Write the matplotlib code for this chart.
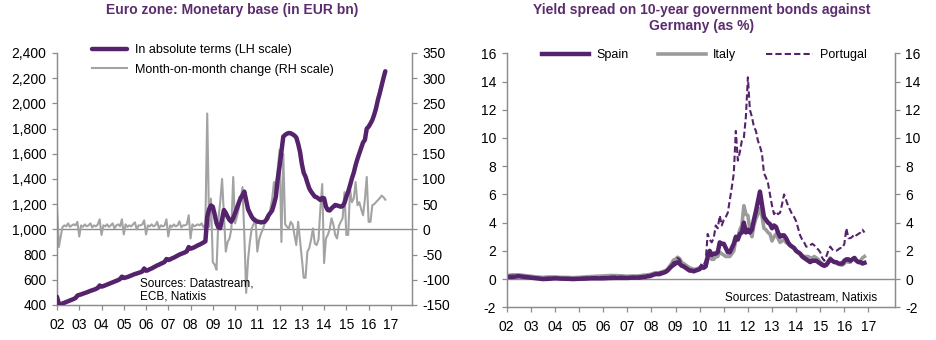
import numpy as np
import matplotlib.pyplot as plt
from matplotlib.ticker import FuncFormatter

plt.rcParams['font.family'] = ['Liberation Sans', 'DejaVu Sans']
plt.rcParams['axes.unicode_minus'] = False

PURPLE = '#55236c'
TITLE = '#5b2d6e'
GREY = '#a3a3a3'
AXIS = '#8c8c8c'

# Euro zone monetary base, monthly from Jan 2002 (EUR bn)
mb_level = [
    465, 410, 405, 412, 418, 424, 430, 436, 442, 448, 455, 475,
    480, 484, 490, 495, 500, 506, 512, 517, 522, 528, 535, 555,
    546, 550, 556, 562, 568, 574, 580, 586, 592, 598, 606, 625,
    614, 618, 622, 628, 634, 640, 646, 650, 655, 660, 666, 690,
    672, 676, 684, 690, 698, 706, 714, 720, 728, 734, 742, 765,
    757, 762, 770, 776, 784, 792, 800, 806, 812, 818, 826, 860,
    847, 852, 858, 866, 874, 880, 888, 895, 905, 1100, 1160, 1190,
    1180, 1120, 1050, 1015, 1010, 1080, 1154, 1130, 1100, 1075, 1061, 1090,
    1128, 1170, 1210, 1250, 1270, 1300, 1230, 1160, 1130, 1100, 1080, 1070,
    1061, 1060, 1055, 1058, 1061, 1080, 1110, 1130, 1150, 1200, 1260, 1400,
    1500, 1620, 1736, 1750, 1760, 1765, 1763, 1755, 1745, 1730, 1680, 1617,
    1520, 1450, 1418, 1370, 1326, 1300, 1280, 1260, 1255, 1245, 1233, 1250,
    1247, 1180, 1154, 1150, 1167, 1180, 1194, 1190, 1185, 1180, 1185, 1210,
    1260, 1300, 1350, 1405, 1450, 1510, 1560, 1604, 1650, 1690, 1710, 1800,
    1815, 1840, 1868, 1910, 1960, 2027, 2080, 2140, 2200, 2255,
]
# Month-on-month change (EUR bn)
mb_change = [
    45, -35, -14, 5, 8, 6, 12, 5, 8, 10, 8, 15,
    -14, 8, 5, 10, 6, 8, 12, 4, 8, 6, 10, 20,
    -11, 8, 6, 10, 5, 8, 12, 2, 8, 10, 6, 20,
    -10, 10, 5, 8, 6, 10, 14, 0, 8, 8, 10, 18,
    -10, 8, 6, 10, 6, 8, 15, 2, 8, 6, 8, 20,
    -14, 8, 5, 10, 6, 8, 16, 4, 8, 8, 10, 28,
    -18, 10, 6, 8, 10, 8, 12, 4, 10, 230, 5, 61,
    -65, -70, -80, 20, 54, 100, 30, -44, -25, -18, 0, 104,
    12, 25, 41, 60, 84, -11, -126, -60, -24, 2, 10, 22,
    -44, -20, -8, 0, 12, 25, 20, 40, 60, 94, 70, 120,
    158, -25, 150, 10, 5, 2, 15, 10, -11, -31, 15, -20,
    -57, -96, -96, -44, -37, -20, 2, -28, -31, -20, 41, 90,
    -67, -18, -11, 0, 22, 10, -11, -18, 7, 15, 22, 74,
    -11, -11, 80, 54, 61, 94, 48, 54, 40, 28, 60, 104,
    15, 15, 48, 50, 54, 58, 62, 67, 64, 59,
]

# 10-year spreads vs Germany (%): quarterly 2002 Q1 - 2007 Q2, then monthly Jul 2007 - Nov 2016
spain = [
    0.15, 0.15, 0.2, 0.15, 0.1, 0.05, 0.0, 0.02, 0.05, 0.03, 0.02, 0.0,
    0.02, 0.03, 0.05, 0.05, 0.05, 0.07, 0.08, 0.08, 0.08, 0.1,
    0.1, 0.12, 0.15, 0.15, 0.2, 0.2,
    0.25, 0.3, 0.35, 0.35, 0.35, 0.4, 0.45, 0.5, 0.6, 0.75, 0.9, 1.0,
    1.1, 1.2, 1.1, 0.95, 0.9, 0.8, 0.7, 0.6, 0.6, 0.55, 0.6, 0.65,
    0.7, 0.9, 0.8, 0.9, 1.6, 2.0, 1.7, 1.8, 1.8, 1.9, 2.6, 2.5,
    2.5, 2.2, 1.9, 1.9, 2.2, 2.5, 3.0, 2.8, 3.2, 3.3, 4.0, 3.3,
    3.5, 3.3, 3.5, 4.2, 4.8, 5.5, 6.2, 5.3, 4.4, 4.2, 4.0, 3.9,
    3.6, 3.8, 3.7, 3.3, 3.0, 3.1, 3.1, 2.9, 2.6, 2.4, 2.3, 2.2,
    2.0, 1.9, 1.8, 1.6, 1.5, 1.4, 1.3, 1.2, 1.3, 1.3, 1.3, 1.2,
    1.1, 1.0, 0.95, 1.0, 1.2, 1.4, 1.3, 1.2, 1.2, 1.1, 1.1, 1.1,
    1.3, 1.4, 1.4, 1.3, 1.4, 1.5, 1.3, 1.2, 1.2, 1.1, 1.15,
]
italy = [
    0.25, 0.3, 0.3, 0.25, 0.2, 0.15, 0.12, 0.15, 0.15, 0.12, 0.12, 0.1,
    0.12, 0.15, 0.18, 0.2, 0.22, 0.25, 0.25, 0.23, 0.2, 0.22,
    0.22, 0.25, 0.28, 0.28, 0.3, 0.32,
    0.35, 0.4, 0.45, 0.45, 0.45, 0.5, 0.55, 0.6, 0.7, 0.9, 1.1, 1.35,
    1.4, 1.55, 1.45, 1.2, 1.1, 1.0, 0.9, 0.8, 0.75, 0.7, 0.7, 0.75,
    0.8, 0.9, 0.8, 0.9, 1.4, 1.6, 1.4, 1.4, 1.6, 1.6, 1.9, 1.8,
    1.7, 1.6, 1.6, 1.6, 1.8, 2.0, 2.8, 2.9, 3.5, 3.8, 5.2, 4.6,
    4.5, 3.5, 3.0, 3.8, 4.3, 4.6, 5.0, 4.5, 3.6, 3.5, 3.3, 3.2,
    2.7, 3.0, 3.2, 2.9, 2.6, 2.7, 2.8, 2.6, 2.5, 2.4, 2.3, 2.2,
    2.0, 1.9, 1.8, 1.7, 1.6, 1.6, 1.6, 1.5, 1.5, 1.6, 1.5, 1.4,
    1.2, 1.1, 0.9, 1.0, 1.2, 1.5, 1.3, 1.2, 1.2, 1.1, 1.0, 1.0,
    1.1, 1.3, 1.2, 1.2, 1.4, 1.5, 1.3, 1.2, 1.3, 1.5, 1.6,
]
portugal = [
    0.2, 0.25, 0.25, 0.2, 0.15, 0.1, 0.08, 0.1, 0.1, 0.08, 0.07, 0.05,
    0.08, 0.1, 0.12, 0.15, 0.15, 0.17, 0.18, 0.17, 0.15, 0.17,
    0.18, 0.2, 0.22, 0.22, 0.25, 0.25,
    0.3, 0.35, 0.4, 0.4, 0.45, 0.5, 0.55, 0.55, 0.65, 0.8, 1.0, 1.2,
    1.2, 1.5, 1.4, 1.1, 0.95, 0.85, 0.7, 0.65, 0.6, 0.55, 0.6, 0.7,
    0.75, 1.1, 1.0, 1.3, 3.2, 2.8, 2.6, 2.9, 3.8, 3.6, 4.5, 3.8,
    4.2, 4.4, 4.7, 5.6, 6.5, 7.5, 10.5, 8.4, 9.0, 9.8, 10.0, 11.5,
    14.3, 12.0, 11.5, 10.8, 10.5, 9.8, 9.4, 8.9, 7.5, 7.2, 6.8, 6.0,
    5.2, 4.6, 4.8, 4.6, 4.7, 5.3, 6.0, 5.6, 5.2, 4.9, 4.6, 4.4,
    4.1, 3.6, 3.1, 2.8, 2.6, 2.3, 2.3, 2.4, 2.5, 2.4, 2.2, 2.1,
    1.9, 1.5, 1.3, 1.6, 2.0, 2.3, 2.1, 2.0, 2.0, 2.1, 2.2, 2.2,
    2.5, 3.6, 2.9, 2.9, 3.0, 3.2, 3.1, 3.2, 3.3, 3.5, 3.3,
]

years = list(range(2002, 2018))
year_labels = ['%02d' % (y % 100) for y in years]

mb_x = 2002 + np.arange(len(mb_level)) / 12
spread_x = np.concatenate([2002 + np.arange(22) / 4,
                           2007.5 + np.arange(len(spain) - 22) / 12])


def style_axes(ax):
    ax.spines['top'].set_visible(False)
    for side in ('left', 'right', 'bottom'):
        ax.spines[side].set_color(AXIS)
        ax.spines[side].set_linewidth(0.9)
    ax.tick_params(direction='out', length=3.5, width=0.9, color=AXIS,
                   labelsize=10, labelcolor='black', pad=4)
    ax.tick_params(axis='x', pad=6)


fig = plt.figure(figsize=(9.37, 3.40), dpi=100)

# ---- left panel: monetary base
ax1 = fig.add_axes([57 / 937, 35 / 340, 355 / 937, 252 / 340])
ax1r = ax1.twinx()
ax1.set_zorder(ax1r.get_zorder() + 1)
ax1.patch.set_visible(False)

ax1r.axhline(0, color=AXIS, lw=1.0, zorder=1)
g_line, = ax1r.plot(mb_x, mb_change, color=GREY, lw=1.5, zorder=2)
p_line, = ax1.plot(mb_x, mb_level, color=PURPLE, lw=3.2,
                   solid_capstyle='round', zorder=3)

ax1.set_xlim(2002, 2017.95)
ax1.set_ylim(400, 2400)
ax1.set_yticks(range(400, 2401, 200))
ax1.yaxis.set_major_formatter(FuncFormatter(lambda v, p: f'{v:,.0f}'))
ax1r.set_ylim(-150, 350)
ax1r.set_yticks(range(-150, 351, 50))
ax1.set_xticks(years)
ax1.set_xticklabels(year_labels)
for a in (ax1, ax1r):
    style_axes(a)

ax1.legend([p_line, g_line],
           ['In absolute terms (LH scale)', 'Month-on-month change (RH scale)'],
           loc='upper left', bbox_to_anchor=(0.1, 1.035), frameon=False,
           fontsize=9, handlelength=2.8, handletextpad=0.6,
           labelspacing=0.6, borderpad=0, borderaxespad=0)
ax1.text(0.235, 0.06, 'Sources: Datastream,\nECB, Natixis',
         transform=ax1.transAxes, fontsize=8.5, va='center', ha='left',
         linespacing=1.15)

fig.text(232 / 937, 1 - 10 / 340, 'Euro zone: Monetary base (in EUR bn)',
         ha='center', va='center', fontsize=10, fontweight='bold', color=TITLE)

# ---- right panel: yield spreads
ax2 = fig.add_axes([506.7 / 937, 32.7 / 340, 388.3 / 937, 254 / 340])
ax2r = ax2.twinx()

ax2.axhline(0, color=AXIS, lw=1.0, zorder=1)
it_line, = ax2.plot(spread_x, italy, color='#9b9b9b', lw=2.6, zorder=2)
sp_line, = ax2.plot(spread_x, spain, color=PURPLE, lw=3.2, zorder=3)
pt_line, = ax2.plot(spread_x, portugal, color=PURPLE, lw=1.5,
                    dashes=(3, 1.5), zorder=4)

for a in (ax2, ax2r):
    a.set_ylim(-2, 16)
    a.set_yticks(range(-2, 17, 2))
    style_axes(a)
ax2.set_xlim(2002, 2018.1)
ax2.set_xticks(years)
ax2.set_xticklabels(year_labels)

ax2.legend([sp_line, it_line, pt_line], ['Spain', 'Italy', 'Portugal'],
           loc='upper left', bbox_to_anchor=(0.09, 1.015), ncol=3,
           frameon=False, fontsize=9, handlelength=3.8, handletextpad=0.55,
           columnspacing=2.4, borderpad=0, borderaxespad=0)
ax2.text(0.955, 0.04, 'Sources: Datastream, Natixis', transform=ax2.transAxes,
         fontsize=8.5, ha='right', va='center')

fig.text(702 / 937, 1 - 3 / 340,
         'Yield spread on 10-year government bonds against\nGermany (as %)',
         ha='center', va='top', fontsize=10, fontweight='bold', color=TITLE,
         linespacing=1.2)

fig.savefig('out.png', dpi=100)
